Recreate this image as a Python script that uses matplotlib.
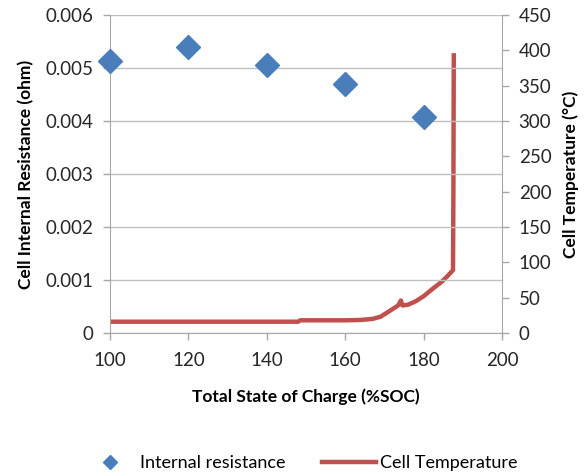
import matplotlib.pyplot as plt
from matplotlib.lines import Line2D

plt.rcParams['font.family'] = ['Lato', 'DejaVu Sans']

# internal resistance points
soc_r = [100, 120, 140, 160, 180]
resistance = [0.00513, 0.0054, 0.00506, 0.0047, 0.00408]

# cell temperature curve
soc_t = [100, 148, 148.5, 160, 164, 167, 169, 171, 173.5, 174.2, 174.6, 176, 178, 180, 182.4, 184.5, 186, 187.5, 187.6, 187.7]
temp = [16, 16, 18, 18, 18.5, 20, 23, 30, 39, 46, 39, 40, 45, 52, 63, 72, 80, 89, 200, 396]

blue = '#4A7EBB'
red = '#C0504D'
grey = '#A6A6A6'

fig = plt.figure(figsize=(5.87, 4.76), dpi=100)
ax = fig.add_axes([0.1874, 0.3004, 0.6678, 0.6681])
ax2 = ax.twinx()

ax.plot(soc_r, resistance, linestyle='none', marker='D', markersize=12,
        color=blue, zorder=3, clip_on=False)
ax2.plot(soc_t, temp, color=red, linewidth=3.2, solid_capstyle='butt')

ax.set_xlim(100, 200)
ax.set_ylim(0, 0.006)
ax2.set_ylim(0, 450)
ax.set_xticks(range(100, 201, 20))
ax.set_yticks([0, 0.001, 0.002, 0.003, 0.004, 0.005, 0.006])
ax.set_yticklabels(['0', '0.001', '0.002', '0.003', '0.004', '0.005', '0.006'])
ax2.set_yticks(range(0, 451, 50))

ax.grid(axis='y', color='#BFBFBF', linewidth=1)
ax.set_axisbelow(True)
ax.set_zorder(ax2.get_zorder() + 1)
ax.patch.set_visible(False)

for a in (ax, ax2):
    a.spines['top'].set_visible(False)
    for s in ('left', 'right', 'bottom'):
        a.spines[s].set_color(grey)
    a.tick_params(colors=grey, labelcolor='#262626', labelsize=13.5, length=5, width=1, pad=7)
ax.spines['right'].set_visible(False)
ax2.spines['left'].set_visible(False)
ax2.spines['bottom'].set_visible(False)
ax.tick_params(axis='x', pad=9)

ax.set_xlabel('Total State of Charge (%SOC)', fontsize=12.5, fontweight='bold', labelpad=14)
ax.set_ylabel('Cell Internal Resistance (ohm)', fontsize=12.5, fontweight='bold', labelpad=8)
ax2.set_ylabel('Cell Temperature (°C)', fontsize=12.5, fontweight='bold', labelpad=8)

handles = [
    Line2D([], [], linestyle='none', marker='D', markersize=7, color=blue),
    Line2D([], [], color=red, linewidth=3.2),
]
fig.legend(handles, ['Internal resistance', 'Cell Temperature'], loc='center',
           bbox_to_anchor=(300 / 587, 1 - 463 / 476), ncol=2, frameon=False,
           fontsize=13, columnspacing=2.0, handlelength=3.0, handletextpad=0.2)

fig.savefig('out.png', dpi=100)
